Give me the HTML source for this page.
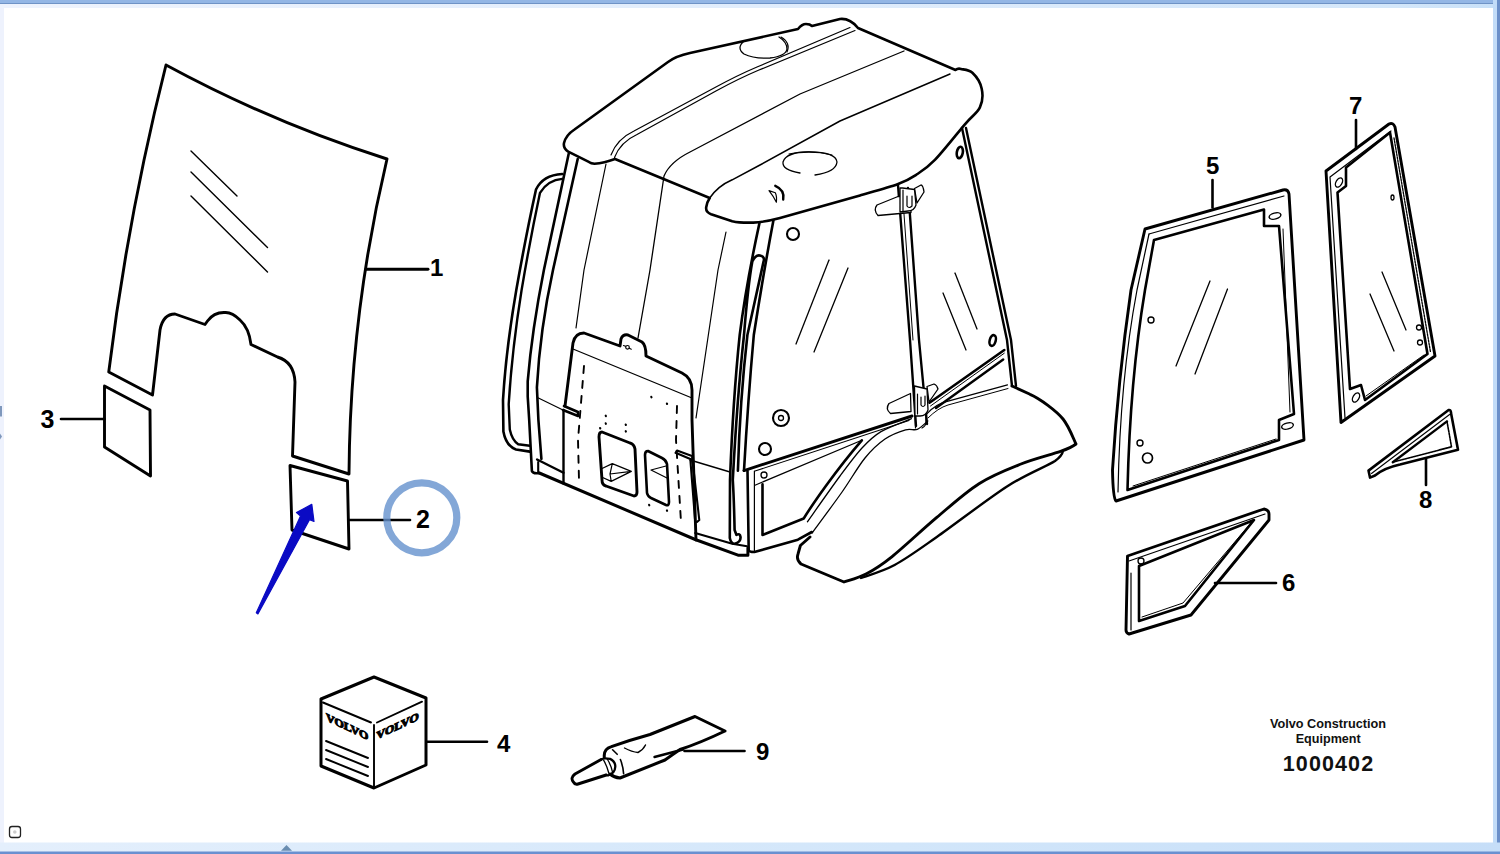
<!DOCTYPE html>
<html><head><meta charset="utf-8">
<style>
html,body{margin:0;padding:0;width:1500px;height:854px;overflow:hidden;background:#fff;}
svg{position:absolute;left:0;top:0;display:block;}
.lbl{font-family:"Liberation Sans",sans-serif;font-weight:bold;font-size:24px;fill:#000;}
</style></head><body>
<svg width="1500" height="854" viewBox="0 0 1500 854">
<!-- frame -->
<rect x="0" y="0" width="1500" height="854" fill="#ffffff"/>
<rect x="0" y="0" width="4" height="854" fill="#eef2fd"/>
<defs><linearGradient id="bandg" x1="0" y1="0" x2="1500" y2="0" gradientUnits="userSpaceOnUse"><stop offset="0" stop-color="#e4effc"/><stop offset="0.6" stop-color="#d2e6fa"/><stop offset="1" stop-color="#c6def8"/></linearGradient></defs>
<linearGradient id="topg" x1="0" y1="0" x2="1500" y2="0" gradientUnits="userSpaceOnUse"><stop offset="0" stop-color="#eef3fd"/><stop offset="0.5" stop-color="#e1edfc"/><stop offset="0.93" stop-color="#d4e7fa"/><stop offset="1" stop-color="#c8e0f8"/></linearGradient>
<rect x="0" y="4" width="1500" height="4" fill="url(#topg)"/>
<rect x="0" y="0" width="1500" height="3.3" fill="#93b6e5"/>
<rect x="0" y="3" width="1500" height="1" fill="#6f93c6"/>
<rect x="1493" y="0" width="7" height="854" fill="#c2dcf8"/>
<rect x="1497" y="0" width="3" height="854" fill="#6b8fc9"/>
<rect x="0" y="842.5" width="1500" height="11.5" fill="url(#bandg)"/>
<rect x="0" y="851.5" width="1500" height="2.5" fill="#6a90d0"/>
<rect x="9.5" y="826.5" width="11" height="11" rx="2.5" fill="none" stroke="#222" stroke-width="1.3"/><circle cx="14.8" cy="832" r="1.8" fill="#ccc"/>
<polygon points="281,850.8 286.5,845 292,850.8" fill="#6a8db0"/>
<rect x="0" y="406" width="2" height="10.5" fill="#7f98bc"/><polygon points="0,433.5 2,436.5 0,439.5" fill="#7f98bc"/>

<g fill="none" stroke="#000" stroke-linejoin="round" stroke-linecap="round">
<!-- PART 1 glass -->
<path stroke-width="2.9" d="M166,65 Q273,123 387,159 Q350,315 349,474 L292.5,456 L295,382 Q294,362 277.5,357 L251,344.5 Q249,328 240,320 Q232,312 225,312.5 Q214,312 207.5,321 L205,324.5 L175,314 Q163,314 160,330 L152.5,395 L108.75,372 Q127.6,217.5 166,65 Z"/>
<g stroke-width="1.4">
<line x1="191" y1="151" x2="237" y2="196"/>
<line x1="191" y1="172" x2="267.5" y2="247.5"/>
<line x1="191" y1="196" x2="267.5" y2="272"/>
</g>
<!-- PART 3 -->
<path stroke-width="2.9" d="M104.5,386 L150,410 L150.5,476 L104.5,447 Z"/>
<line stroke-width="2.6" x1="61" y1="419" x2="104.5" y2="419"/>
<!-- PART 2 -->
<path stroke-width="2.9" d="M290,465.5 L347.5,481 L349,549 L292,530 Z"/>
<line stroke-width="2.6" x1="349" y1="520" x2="410" y2="520"/>
<!-- leader 1 -->
<line stroke-width="2.9" x1="366" y1="269.3" x2="428" y2="269.3"/>
</g>
<!-- circle highlight -->
<circle cx="421.8" cy="517.8" r="35" fill="none" stroke="rgb(100,145,205)" stroke-opacity="0.8" stroke-width="7.2"/>
<!-- arrow -->
<polygon points="311.8,504.3 296.5,512.6 300.5,516 256.3,612.8 257.9,613.9 309.5,519.8 314,521.5" fill="#0a0ac4" stroke="#0a0ac4" stroke-width="1.2" stroke-linejoin="round"/>

<!-- labels -->
<text class="lbl" x="430" y="276">1</text>
<text class="lbl" x="416" y="528" style="font-size:25px">2</text>
<text class="lbl" x="40.5" y="427.5" style="font-size:25px">3</text>
<text class="lbl" x="497" y="752">4</text>
<text class="lbl" x="1206" y="174">5</text>
<text class="lbl" x="1282" y="591">6</text>
<text class="lbl" x="1349" y="114">7</text>
<text class="lbl" x="1419" y="507.5">8</text>
<text class="lbl" x="756" y="760">9</text>

<!-- CAB -->
<g id="cab" fill="none" stroke="#000" stroke-linejoin="round" stroke-linecap="round">
<!-- roof outline -->
<path stroke-width="2.6" d="M568.2,151.6 Q563,148 564,143 Q566,135 574.5,129.5 L668,62 Q676,56 690,53 L798,29 Q802,24 806,24 Q810,24 812,26 L840,19 Q850,18 858,28 L955.5,70 Q958,68 961,69 C962.9,69.6 968.9,69.5 972.4,72.8 C975.9,76.1 980.5,82.9 981.7,88.7 C983.0,94.5 982.7,101.5 979.9,107.4 C977.1,113.3 972.4,115.5 964.9,124.3 C957.4,133.1 943.0,151.5 934.9,159.9 C926.8,168.3 922.4,170.8 916.2,174.8 C910.0,178.9 906.9,180.8 897.5,184.2 C888.1,187.6 866.2,193.5 860.0,195.4 L780,218 Q765,222 753.2,222.6 Q740,223 732.2,221.2 L711.1,214.2 Q705.5,212 706.2,207.2 Q707,202 709.7,198 L615,159 Q604,163 594.5,163.8 Q591,163.5 589.3,162.2 L568.2,151.6 Z"/>
<!-- roof front visor upper edge -->
<path stroke-width="1.5" d="M709.7,198 Q718,186 732.2,179.8 L760,165 L840,121 L950,74"/>
<!-- roof ridge lines -->
<path stroke-width="1.3" d="M638,338 L650,270 L664,176 Q670,162 690,152 L800,94 L904,51"/>
<path stroke-width="1.2" d="M576,328 L584,270 L606,164"/>
<path stroke-width="1.2" d="M611,155 Q617,139 634,131 L715,87.5 Q737,75.5 757,67 L850,27.5"/>
<path stroke-width="1.2" d="M614.5,157.5 Q620.5,142 637,134.5 L716.4,90.8 Q738.4,78.8 758.4,70.3 L855,30.5"/>
<path stroke-width="1.2" d="M726,232 L718,270 L696,418"/>
<!-- roof vents -->
<path stroke-width="1.3" d="M744,41 Q736,48 744,54 Q754,59 770,58 Q786,56 787,49 Q787,42 779,37"/>
<path stroke-width="1.1" d="M781,37 Q791,43 787,52"/>
<path stroke-width="1.3" d="M800,173 Q782,170 783,162 Q786,152 809,152 Q836,152 837,162 Q836,172 815,175"/>
<path stroke-width="1.1" d="M789,154 Q810,149 832,155"/>
<path stroke-width="1.2" d="M769,190.6 Q774,197 776.4,202.2 Q777,196 775.3,192.7 Z"/><path stroke-width="2.4" d="M775.3,185.8 Q785,190 783.2,199.5"/>
<!-- rear left pillar & handrail -->
<path stroke-width="2.6" d="M568.7,153.7 L543.9,270 Q532,330 527.7,381.3 L527.7,396.5 L529.2,420 L531.9,471 Q533,474 539.3,473"/>
<path stroke-width="2.6" d="M577.7,159 L553,270 Q540,330 536.9,387.4 L538.4,420 L541.4,459"/>
<path stroke-width="2.6" d="M562.2,174 Q543,175 536,189.5 Q526,235 516.3,290 Q506,350 503,400 L503.4,431.6 Q506,446 516,449.5 L529.8,451.6"/>
<path stroke-width="2.4" d="M562.2,178.9 Q548,180 540,192.8 Q530,240 521.6,290 Q512,350 508.7,404.2 L509.8,429.5 Q512,440 518.2,444.3 L529.8,445.8"/>
<!-- rear plate -->
<path stroke-width="2.9" d="M565,406 L573,343 Q575,333 584,333 L620,346 L621,339 Q623,334 628,335 L642,342 Q646,345 646,356 L682,373 Q692,378 692,390 L692,420 L696,540"/>
<path stroke-width="2.6" d="M564,406 L578,412 L578,416 L563,410"/>
<path stroke-width="2.4" d="M563.5,410 L563.5,483.5"/>
<path stroke-width="1.3" d="M573,349 L692,398"/>
<path stroke-width="1.2" d="M538.4,398 L563.5,410.2"/>
<path stroke-width="1.9" stroke-dasharray="7,8" d="M584,366 L578,440 L579,480"/>
<path stroke-width="1.9" stroke-dasharray="7,8" d="M677,406 L676,440 L681,522"/>
<path stroke-width="2.9" d="M602,432 Q599,432 599,437 L602,480 Q602,485 606,486 L634,496 Q637,496 637,492 L635,449 Q634,444 630,443 Z"/>
<path stroke-width="2.6" d="M648,451 Q645,451 645,455 L647,493 Q648,497 651,498 L666,505 Q669,506 669,502 L667,464 Q666,460 662,458 Z"/>
<path stroke-width="1.2" d="M601,469 L612.3,463.6 L631.3,471.4 L611.2,481.4 L601.5,477 M612.3,463.6 L610,474 L631.3,471.4 M610,474 L611.2,481.4"/>
<path stroke-width="1.2" d="M666,466 L651,470 L667,478"/>
<g stroke-width="2.1">
<line x1="651.3" y1="396.8" x2="651.5" y2="397.3"/><line x1="666.9" y1="403.5" x2="667.1" y2="404"/><line x1="605.7" y1="415.7" x2="605.9" y2="416.2"/><line x1="605.7" y1="423.3" x2="605.9" y2="423.8"/><line x1="600.1" y1="428" x2="600.3" y2="428.5"/><line x1="625.7" y1="424.5" x2="625.9" y2="425"/><line x1="625.7" y1="431.1" x2="625.9" y2="431.6"/><line x1="649.1" y1="504.8" x2="649.3" y2="505.3"/><line x1="666.9" y1="510.4" x2="667.1" y2="510.9"/>
</g>
<circle cx="627.5" cy="347.3" r="1.8" stroke-width="1.2"/>
<path stroke-width="1.1" d="M623.5,345.5 L625.5,346.3 M629.3,348.3 L631.3,349.2"/>
<!-- lower rear rails -->
<path stroke-width="2.4" d="M537.1,459.5 L563.5,472.7"/>
<path stroke-width="2.1" d="M538.2,462 L538.2,472"/>
<path stroke-width="3" d="M539.3,473 L695.2,539.5 L738,555.2 L747.9,555.2 L747.9,548"/>
<path stroke-width="2.1" d="M695.2,533.1 L732.3,543.8 L747,546.2"/>
<path stroke-width="1.4" d="M690,460 L730,472"/>
<path stroke-width="2.1" d="M675.6,452.8 L690.3,459 L695.2,521.6 M675.6,452.8 L677,450.5 L692,456 L699.3,520 L697,522"/>
<!-- grab bar -->
<path stroke-width="2.6" d="M759.4,223.4 Q746,285 739.7,335 Q733,400 730,480 L729.8,538 Q731,544 734.8,543.8 Q741,542 740.5,537 Q740,533 736.4,534.8 L734.6,530 Q734,500 732.8,480 Q737,400 744,335 Q748,285 752.3,261.4 Q756,254 760.8,255.8 Q765,257 763.6,261.4 Q755,300 747.4,335 Q740,400 737.9,470.8"/>
<path stroke-width="2.6" d="M773.4,220.6 Q764,270 753.8,335 Q748,400 744,470.6"/>
<!-- bolts -->
<circle cx="793" cy="234" r="6" stroke-width="2.1"/>
<circle cx="781" cy="418" r="8" stroke-width="2.1"/>
<circle cx="781" cy="418" r="2.5" stroke-width="1.3"/>
<circle cx="765" cy="449" r="6" stroke-width="2.1"/>
<circle cx="764" cy="475" r="3" stroke-width="1.3"/>
<ellipse cx="992.7" cy="340.5" rx="3" ry="5.5" transform="rotate(15 992.7 340.5)" stroke-width="2.6"/>
<ellipse cx="959.8" cy="152.5" rx="3" ry="5.8" transform="rotate(10 959.8 152.5)" stroke-width="2.6"/>
<!-- door glass glare -->
<g stroke-width="1.3">
<line x1="829" y1="260" x2="796" y2="344"/>
<line x1="848" y1="268" x2="814" y2="352"/>
<line x1="955" y1="273" x2="977" y2="329"/>
<line x1="943" y1="293" x2="966" y2="350"/>
</g>
<!-- B pillar -->
<path stroke-width="2.4" d="M898,185 L910,340 L916,426"/>
<path stroke-width="2.4" d="M908,188 L919,340 L927,424"/>
<path stroke-width="1" d="M903,200 L913,340"/>
<!-- hinges -->
<path stroke-width="1.3" fill="#fff" d="M898,196.5 L877,205 Q873,210 878,215.5 L911,212.5 L911,196 Z"/>
<path stroke-width="1.3" fill="#fff" d="M914.5,188.5 L921,185 Q923,185 924,192 L917,203 Z"/>
<path stroke-width="1.3" fill="#fff" d="M900,188 L902.5,188 L914.5,189.5 L916,205 Q914,211 908,211 L900,212 Z"/>
<path stroke-width="1.2" d="M903,190 L903,212 M907,196 L907,206 Q909,209 912,206 L912,196"/>
<path stroke-width="1.3" fill="#fff" d="M910.5,393.5 L889,403.5 Q885,409 890.5,413.5 L911,411.5 Z"/>
<path stroke-width="1.3" fill="#fff" d="M927,386.5 L934,384 Q937,385 938,389 L929,402 Z"/>
<path stroke-width="1.3" fill="#fff" d="M914.5,386 L927,389 L928,410 Q926,416 920,416 L915,416 Z"/>
<path stroke-width="1.2" d="M917.5,394 L917.5,414 M921,397 L921,405 Q923,408 925,405 L925,396 M915,416 L915.5,428 M926,416 L926,422 Q926,426 922,428"/>
<!-- rear pillar -->
<path stroke-width="2.4" d="M962,128 L1007,340 L1012,386"/>
<path stroke-width="2.4" d="M966,128 L1011,340 L1016,386"/>
<!-- door bottom rail -->
<path stroke-width="2.9" d="M744,470.6 L912,416"/>
<path stroke-width="1.1" d="M755,471 L909,420.6"/>
<!-- rear lower window rail -->
<path stroke-width="2.6" d="M929.5,402.7 L1004.3,350"/>
<path stroke-width="1" d="M930.5,406 L1004.3,353.2"/>
<path stroke-width="2.4" d="M936,408 L1003.2,359.5"/>
<path stroke-width="1.2" d="M926.3,414.3 Q936,404 946.3,401.7 L1007.5,384.8"/>
<path stroke-width="1" d="M928,418 Q938,408 948,405 L1008,388.5"/>
<!-- fender -->
<path stroke-width="2.9" d="M1012,386 L1030,394.3 C1040,398.6 1056.7,411.1 1063.0,419.0 C1069.3,426.9 1073.8,439.8 1076.0,444.0 C1073.4,446.1 1069.7,448.2 1060.5,451.4 C1051.3,454.6 1034.6,458.6 1021.0,464.0 C1007.4,469.4 993.0,474.8 979.0,483.7 C965.0,492.6 951.3,505.2 936.8,517.4 C922.3,529.6 903.5,547.4 891.8,556.8 C880.1,566.2 874.5,569.5 866.5,573.7 C858.5,577.9 847.8,580.6 844.0,582.0 L801,564 Q796,560 798,554 L800.4,545.5 L810,537"/>
<path stroke-width="2.4" d="M1063,451 Q1062,456 1055.0,461.0 C1045.7,466.9 1026.7,473.8 1007.0,486.5 C987.3,499.2 955.5,523.9 936.8,537.0 C918.1,550.1 907.2,558.2 894.6,565.0 C882.0,571.8 866.6,575.8 861.0,578.0"/>
<path stroke-width="1.3" d="M812.0,533.0 C817.0,526.2 832.9,505.0 841.7,492.5 C850.5,480.0 857.8,466.9 865.0,458.0 C872.2,449.1 878.2,443.7 885.0,439.0 C891.8,434.3 900.2,431.4 905.6,429.8 C911.0,428.2 913.6,430.8 917.3,429.3 C921.0,427.8 926.0,422.4 927.8,421.0"/>
<path stroke-width="1.3" d="M807.4,521.8 C812.8,514.2 830.9,488.3 840.0,476.0 C849.1,463.7 855.2,455.4 862.0,448.0 C868.8,440.6 872.8,436.5 881.0,431.6 C889.2,426.7 906.3,420.9 911.4,418.7"/>
<!-- lower front box -->
<path stroke-width="2.6" d="M747.5,471 L748.7,550 Q749,552 754.4,552 L797.9,539.7 L811.8,532"/>
<path stroke-width="1.2" d="M754.4,471 L754.4,551"/>
<path stroke-width="2.6" d="M762.5,484.3 L762.5,535 L803.7,518.5 C812,505 836,470 861.8,440.3"/>
<path stroke-width="1.2" d="M755,485.2 L861.8,440.3"/>

</g>

<!-- PARTS 5-8 -->
<g id="parts" fill="none" stroke="#000" stroke-linejoin="round" stroke-linecap="round">
<!-- PART 5 -->
<path stroke-width="2.9" d="M1145,229 L1283,190 Q1288,189 1289,194 L1304,440 L1116,501 Q1113,498 1112.5,470 Q1118,380 1131,290 Z"/>
<path stroke-width="1.2" d="M1149,234 L1284,196"/>
<path stroke-width="1.2" d="M1118,492 Q1120,380 1137,290 L1149,234"/>
<path stroke-width="2.6" d="M1154,240 L1264,209.5 L1264,226 L1279,226 L1294,414 L1279,420 L1279,440 L1127.5,490 Q1130,380 1145,290 Z"/>
<path stroke-width="1" d="M1133,486 L1276,439"/>
<path stroke-width="1" d="M1283,229 L1290,412"/>
<ellipse cx="1275" cy="216" rx="6" ry="3" transform="rotate(-15 1275 216)" stroke-width="1.4"/>
<ellipse cx="1287.5" cy="426" rx="6" ry="3" transform="rotate(-15 1287.5 426)" stroke-width="1.4"/>
<circle cx="1151" cy="320" r="3" stroke-width="1.4"/>
<circle cx="1140" cy="443" r="3" stroke-width="1.4"/>
<circle cx="1147.5" cy="458" r="5" stroke-width="1.7"/>
<line x1="1210" y1="281" x2="1176" y2="366" stroke-width="1.3"/>
<line x1="1227.5" y1="289" x2="1195" y2="374" stroke-width="1.3"/>
<line x1="1212.5" y1="180" x2="1212.5" y2="207.5" stroke-width="2.6"/>
<!-- PART 7 -->
<path stroke-width="2.9" d="M1326,171 L1389,124 Q1393,122 1395,127 L1435,356 L1341,422.5 Z"/>
<path stroke-width="1.2" d="M1345,418 L1330,177 L1391,131"/>
<path stroke-width="2.6" d="M1346,167.5 L1390,132.5 L1427.5,354 L1365,400 L1361,385 L1350,389 L1337.5,192.5 L1346,186 Z"/>
<path stroke-width="1.3" stroke-dasharray="2,1.2" d="M1394,138 L1430.5,352"/>
<path stroke-width="1" d="M1366,396 L1424,355"/>
<ellipse cx="1339" cy="182.5" rx="3" ry="5" transform="rotate(30 1339 182.5)" stroke-width="1.4"/>
<ellipse cx="1356" cy="397.5" rx="3" ry="5" transform="rotate(30 1356 397.5)" stroke-width="1.4"/>
<ellipse cx="1392.5" cy="197.5" rx="1.5" ry="2.5" stroke-width="1.3"/>
<circle cx="1419" cy="327.5" r="2.5" stroke-width="1.3"/>
<circle cx="1420" cy="342.5" r="2.5" stroke-width="1.3"/>
<line x1="1382" y1="272" x2="1406" y2="330" stroke-width="1.3"/>
<line x1="1370" y1="294" x2="1394" y2="351" stroke-width="1.3"/>
<line x1="1356" y1="120" x2="1356" y2="149" stroke-width="2.6"/>
<!-- PART 8 -->
<path stroke-width="2.6" d="M1368.5,470.6 L1448.6,410 Q1451,409.5 1451,413 L1458,449.8 L1400,464.5 Q1384,468 1375,475.5 L1370,477.6 Z"/>
<path stroke-width="1.1" d="M1371.5,473.5 L1449.6,414.5"/>
<path stroke-width="2.4" d="M1392.8,462.2 L1447,421.4"/>
<path stroke-width="1.6" stroke-dasharray="2,1" d="M1447,421.4 L1451.5,446.8 L1392.8,462.2"/>
<line x1="1426" y1="459" x2="1426" y2="485" stroke-width="2.6"/>
<!-- PART 6 -->
<path stroke-width="2.9" d="M1127.5,556 L1264,509 Q1269,510 1269,514 L1269,520 L1191,615 L1129,634 Q1126,633 1126,630 Z"/>
<path stroke-width="1.2" d="M1129,561 L1265,514"/>
<path stroke-width="1.2" d="M1131,573 L1131,630"/>
<path stroke-width="2.6" d="M1139,566 L1254,520 L1185,606 L1139,621 Z"/>
<path stroke-width="1" d="M1142,617 L1183,603 L1250,524"/>
<circle cx="1141" cy="561" r="3" stroke-width="1.3"/>
<line x1="1215" y1="583" x2="1276" y2="583" stroke-width="2.6"/>
<!-- PART 4 cube -->
<path stroke-width="3" d="M374,677 L321,699 L321,766 L374,788 L426,765 L426,698 Z"/>
<path stroke-width="1.9" d="M323,702.5 L371,722.5 M374,725 L374,787 M377,722.5 L422,701.7"/>
<path stroke-width="1.9" d="M326,741 L368,758 M326,750 L368,767 M326,759 L368,776"/>
<line x1="427" y1="741.7" x2="487" y2="741.7" stroke-width="2.6"/>
<!-- PART 9 tube -->
<path stroke-width="3" d="M604.3,757 Q603.5,749 611.4,746.6 Q630,740 650,734.5 L695,716.5 L725,731 Q700,743 680,749.5 Q672,755 665,760 L620,778 Q614,777.5 610,774"/>
<path stroke-width="2.9" d="M601.1,759.5 L575,774 Q570,778 573.4,782 Q575,785 578,784 L606.2,775"/>
<path stroke-width="2.3" d="M601.1,759.5 Q603,757.5 610,758.8 Q616,762 615.2,767.2 Q615,773 608,775.5 L606.2,775"/>
<path stroke-width="1.3" d="M603.6,760.1 Q607,766 608.8,773 M607.5,759.5 Q611,765 612.6,772.3"/>
<path stroke-width="1.6" d="M612.6,749.8 L617.2,754.3 M620.4,759.5 Q623,766 623.6,773.6"/>
<path stroke-width="2.4" d="M654.5,757 L683,749.5"/>
<path stroke-width="1.4" d="M624.5,748 Q632,752 638,752.5 Q643,750 645.5,745"/>
<line x1="684.5" y1="751" x2="744.5" y2="751" stroke-width="2.6"/>
</g>
<!-- VOLVO text on cube -->
<g font-family="Liberation Serif, serif" font-weight="bold" font-size="11" fill="#000" stroke="#000" stroke-width="1">
<text x="0" y="0" transform="matrix(0.92,0.43,0,1,326,720.5)" textLength="46" lengthAdjust="spacingAndGlyphs">VOLVO</text>
<text x="0" y="0" transform="matrix(0.92,-0.43,0,1,376.5,739.5)" textLength="46" lengthAdjust="spacingAndGlyphs">VOLVO</text>
</g>

<!-- bottom text -->
<g font-family="Liberation Sans, sans-serif" fill="#111">
<text x="1328" y="728" font-size="12.7" font-weight="bold" text-anchor="middle">Volvo Construction</text>
<text x="1328.2" y="743" font-size="12.6" font-weight="bold" text-anchor="middle">Equipment</text>
<text x="1328.5" y="771.2" font-size="21.5" font-weight="bold" letter-spacing="1.1" text-anchor="middle">1000402</text>
</g>
</svg>
</body></html>
